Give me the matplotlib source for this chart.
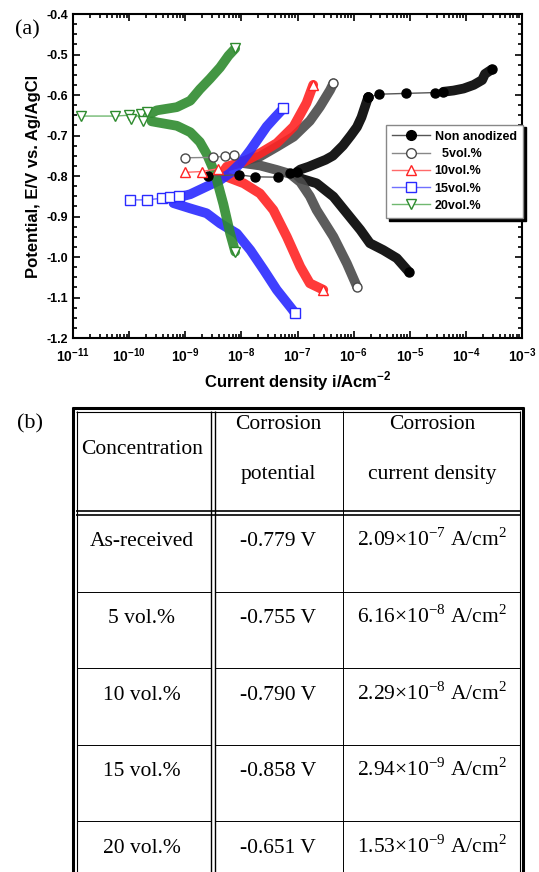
import numpy as np
import matplotlib
matplotlib.use('Agg')
import matplotlib.pyplot as plt
from matplotlib.lines import Line2D
from matplotlib.ticker import MultipleLocator, LogLocator, NullFormatter, FuncFormatter

plt.rcParams['font.family'] = 'Liberation Sans'
plt.rcParams['font.weight'] = 'bold'
plt.rcParams['axes.labelweight'] = 'bold'
plt.rcParams['axes.unicode_minus'] = False
plt.rcParams['mathtext.fontset'] = 'custom'
plt.rcParams['mathtext.rm'] = 'Liberation Serif:weight=normal'
plt.rcParams['mathtext.bf'] = 'Liberation Sans:weight=bold'

# ---- (a) polarization curves, values read as log10(i) / E (V) ----
# Non anodized
na_sparse_log = [-8.59, -8.05, -7.76, -7.34, -7.13, -7.01]
na_sparse_e = [-0.800, -0.797, -0.802, -0.803, -0.793, -0.790]
na_anod_log = [-7.01, -6.95, -6.80, -6.66, -6.50, -6.37, -6.19, -6.05, -5.94, -5.86, -5.80, -5.74]
na_anod_e = [-0.790, -0.784, -0.777, -0.769, -0.760, -0.750, -0.725, -0.700, -0.679, -0.655, -0.630, -0.605]
na_top_log = [-5.74, -5.54, -5.06, -4.55, -4.40]
na_top_e = [-0.605, -0.598, -0.596, -0.594, -0.592]
na_top2_log = [-4.40, -4.22, -4.04, -3.86, -3.71, -3.66, -3.54]
na_top2_e = [-0.592, -0.589, -0.584, -0.575, -0.563, -0.548, -0.537]
na_cath_log = [-7.01, -6.95, -6.66, -6.36, -6.12, -5.88, -5.71, -5.47, -5.23, -5.02]
na_cath_e = [-0.798, -0.806, -0.818, -0.851, -0.892, -0.933, -0.966, -0.983, -1.003, -1.036]

# 5 vol.%
v5_sparse_log = [-9.00, -8.50, -8.29, -8.14]
v5_sparse_e = [-0.755, -0.754, -0.751, -0.748]
v5_anod_log = [-7.98, -7.67, -7.37, -7.07, -6.78, -6.60, -6.42, -6.36]
v5_anod_e = [-0.764, -0.752, -0.728, -0.703, -0.664, -0.629, -0.588, -0.571]
v5_cath_log = [-7.98, -7.67, -7.37, -7.13, -6.95, -6.78, -6.66, -6.36, -6.12, -5.94]
v5_cath_e = [-0.768, -0.774, -0.785, -0.795, -0.815, -0.850, -0.884, -0.950, -1.016, -1.073]

# 10 vol.%
v10_sparse_log = [-9.00, -8.71, -8.41]
v10_sparse_e = [-0.791, -0.789, -0.782]
v10_anod_log = [-8.30, -8.26, -7.96, -7.67, -7.37, -7.07, -6.84, -6.72]
v10_anod_e = [-0.785, -0.777, -0.765, -0.744, -0.719, -0.678, -0.620, -0.575]
v10_cath_log = [-8.30, -7.96, -7.67, -7.43, -7.19, -6.95, -6.78, -6.54]
v10_cath_e = [-0.800, -0.818, -0.843, -0.884, -0.950, -1.024, -1.065, -1.081]

# 15 vol.%
v15_sparse_log = [-9.98, -9.69, -9.42, -9.27, -9.12]
v15_sparse_e = [-0.859, -0.859, -0.855, -0.851, -0.849]
v15_anod_log = [-9.05, -8.91, -8.62, -8.38, -8.20, -8.02, -7.84, -7.55, -7.40, -7.25]
v15_anod_e = [-0.850, -0.845, -0.826, -0.810, -0.793, -0.769, -0.736, -0.678, -0.655, -0.633]
v15_cath_log = [-9.21, -8.91, -8.62, -8.38, -8.08, -7.84, -7.60, -7.37, -7.13, -7.04]
v15_cath_e = [-0.867, -0.880, -0.892, -0.917, -0.942, -0.983, -1.032, -1.081, -1.123, -1.139]

# 20 vol.%
v20_sparse_log = [-10.85, -10.25, -10.01, -9.96, -9.78, -9.75, -9.69]
v20_sparse_e = [-0.652, -0.652, -0.650, -0.660, -0.646, -0.665, -0.641]
v20_anod_log = [-9.60, -9.51, -9.15, -8.91, -8.74, -8.56, -8.38, -8.23, -8.11]
v20_anod_e = [-0.645, -0.638, -0.630, -0.614, -0.586, -0.560, -0.532, -0.503, -0.485]
v20_cath_log = [-9.60, -9.48, -9.15, -8.91, -8.74, -8.62, -8.47, -8.32, -8.20, -8.11]
v20_cath_e = [-0.665, -0.668, -0.676, -0.692, -0.716, -0.745, -0.793, -0.870, -0.942, -0.987]

# ---- (b) table ----
col_headers = [['Concentration'], ['Corrosion', 'potential'], ['Corrosion', 'current density']]
concentrations = ['As-received', '5 vol.%', '10 vol.%', '15 vol.%', '20 vol.%']
corr_potential = ['-0.779 V', '-0.755 V', '-0.790 V', '-0.858 V', '-0.651 V']
icorr_mantissa = ['2.09', '6.16', '2.29', '2.94', '1.53']
icorr_exponent = ['-7', '-8', '-8', '-9', '-9']

W, H = 539, 872
fig = plt.figure(figsize=(W / 100, H / 100), dpi=100)

def fx(x):
    return x / W

def fy(y):
    return 1 - y / H

ax = fig.add_axes([fx(73), fy(338), (522 - 73) / W, (338 - 14) / H])

series = [
    # name, color, line color, marker, face, sparse, bands
    ('Non anodized', 'black', '#555555', 'o', 'black',
     [(na_sparse_log, na_sparse_e), (na_top_log, na_top_e)],
     [(na_anod_log, na_anod_e), (na_cath_log, na_cath_e), (na_top2_log, na_top2_e)]),
    ('  5vol.%', '#4a4a4a', '#888888', 'o', 'white',
     [(v5_sparse_log, v5_sparse_e)],
     [(v5_anod_log, v5_anod_e), (v5_cath_log, v5_cath_e)]),
    ('10vol.%', '#ff2424', '#ff6a6a', '^', 'white',
     [(v10_sparse_log, v10_sparse_e)],
     [(v10_anod_log, v10_anod_e), (v10_cath_log, v10_cath_e)]),
    ('15vol.%', '#2a2aff', '#7070ff', 's', 'white',
     [(v15_sparse_log, v15_sparse_e)],
     [(v15_anod_log, v15_anod_e), (v15_cath_log, v15_cath_e)]),
    ('20vol.%', '#2e8b2e', '#70b870', 'v', 'white',
     [(v20_sparse_log, v20_sparse_e)],
     [(v20_anod_log, v20_anod_e), (v20_cath_log, v20_cath_e)]),
]

handles = []
for name, col, lcol, mk, face, sparse, bands in series:
    for lg, e in bands:
        ax.plot(np.power(10.0, lg), e, color=col, lw=7.0, alpha=0.9,
                solid_capstyle='round', solid_joinstyle='round', zorder=2)
        ax.plot(10.0 ** lg[-1], e[-1], marker=mk, ms=6.5, mfc=face, mec=col,
                mew=1.0, ls='none', zorder=3)
    for lg, e in sparse:
        ax.plot(np.power(10.0, lg), e, color=lcol, lw=1.0, marker=mk, ms=6.5,
                mfc=face, mec=col, mew=1.0, zorder=3)
    handles.append(Line2D([], [], color=lcol, lw=1.0, marker=mk, ms=7,
                          mfc=face, mec=col, mew=1.0, label=name))

ax.set_xscale('log')
ax.set_xlim(1e-11, 1e-3)
ax.set_ylim(-1.2, -0.4)
ax.xaxis.set_major_locator(LogLocator(base=10, numticks=20))
ax.xaxis.set_major_formatter(FuncFormatter(
    lambda v, p: '$\\mathbf{10^{%d}}$' % int(round(np.log10(v)))))
ax.xaxis.set_minor_locator(LogLocator(base=10, subs=np.arange(2, 10), numticks=20))
ax.xaxis.set_minor_formatter(NullFormatter())
ax.yaxis.set_major_locator(MultipleLocator(0.1))
ax.yaxis.set_minor_locator(MultipleLocator(0.025))
ax.yaxis.set_major_formatter(plt.FormatStrFormatter('%.1f'))
ax.tick_params(which='both', direction='in', top=True, right=True, labelsize=9, width=1.2)
ax.tick_params(which='major', length=5)
ax.tick_params(which='minor', length=3)
ax.tick_params(axis='x', which='major', pad=6, labelsize=10)
for sp in ax.spines.values():
    sp.set_linewidth(1.5)

ax.set_xlabel('Current density i/Acm$^{\\mathbf{-2}}$', fontsize=12, labelpad=3)
ax.set_ylabel('Potential, E/V vs. Ag/AgCl', fontsize=12, labelpad=4)

leg = ax.legend(handles=handles, loc='upper left', bbox_to_anchor=(0.683, 0.678),
                fontsize=9, frameon=True, fancybox=False, handlelength=3.0,
                labelspacing=0.42, borderpad=0.5, handletextpad=0.4,
                shadow={'color': 'black', 'alpha': 1.0})
leg.get_frame().set_edgecolor('#888888')
leg.get_frame().set_linewidth(1.0)

fig.text(fx(15), fy(30), '(a)', family='Liberation Serif', weight='normal',
         fontsize=16, va='center', ha='left')
fig.text(fx(17), fy(424), '(b)', family='Liberation Serif', weight='normal',
         fontsize=16, va='center', ha='left')

# ---- table drawing ----
def hline(y, x0, x1, lw):
    fig.add_artist(Line2D([fx(x0), fx(x1)], [fy(y), fy(y)], color='black', lw=lw,
                          transform=fig.transFigure, solid_capstyle='butt'))

def vline(x, y0, y1, lw):
    fig.add_artist(Line2D([fx(x), fx(x)], [fy(y0), fy(y1)], color='black', lw=lw,
                          transform=fig.transFigure, solid_capstyle='butt'))

L, R, T, B = 73, 523, 408, 880
vline(L, T - 1, B, 2.2)
vline(R, T - 1, B, 2.2)
hline(T, L - 1, R + 1, 2.2)
vline(L + 3.5, T + 3, B, 0.8)
vline(R - 3.5, T + 3, B, 0.8)
hline(T + 3.5, L + 3, R - 3, 0.8)
vline(211, T + 3, B, 1.0)
vline(214.5, T + 3, B, 1.0)
vline(343, T + 3, B, 0.7)
hline(511, L + 3, R - 3, 1.2)
hline(515, L + 3, R - 3, 1.2)
for i in range(1, len(concentrations)):
    y = 515 + 76.5 * i
    hline(y, L + 3.5, 211, 0.7)
    hline(y, 214.5, R - 3.5, 0.7)

col_x = [142, 278, 432]
fs = 15.5
serif = dict(family='Liberation Serif', weight='normal', ha='center', va='center')
fig.text(fx(col_x[0]), fy(449), col_headers[0][0], fontsize=fs, **serif)
for j in (1, 2):
    fig.text(fx(col_x[j]), fy(424), col_headers[j][0], fontsize=fs, **serif)
    fig.text(fx(col_x[j]), fy(474), col_headers[j][1], fontsize=fs, **serif)

for i in range(len(concentrations)):
    y = 515 + 76.5 * i + 27
    fig.text(fx(col_x[0]), fy(y), concentrations[i], fontsize=fs, **serif)
    fig.text(fx(col_x[1]), fy(y), corr_potential[i], fontsize=fs, **serif)
    s = (icorr_mantissa[i] + '\u00d710$^{\\mathrm{' + icorr_exponent[i] + '}}$ A/cm$^{\\mathrm{2}}$')
    fig.text(fx(col_x[2]), fy(y - 2), s, fontsize=fs, **serif)

fig.savefig('out.png', dpi=100)
